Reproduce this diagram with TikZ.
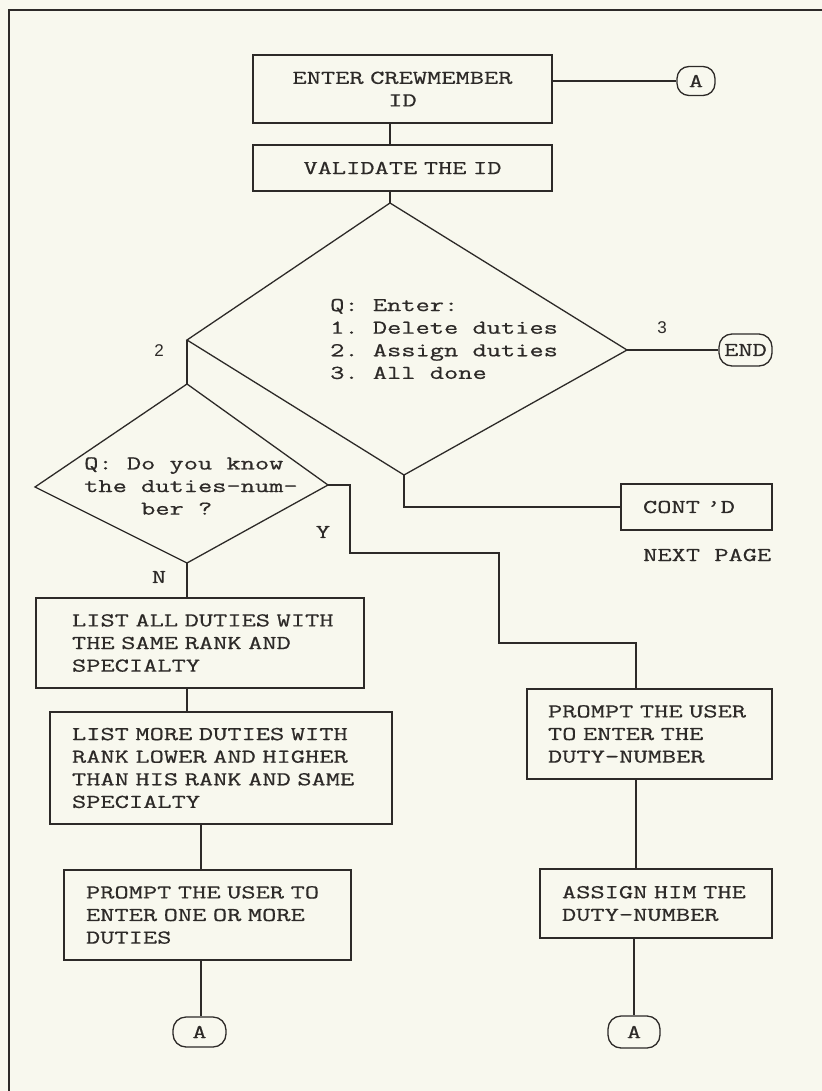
\documentclass[tikz,border=0pt]{standalone}
\usepackage{fontspec}
\setmainfont{Latin Modern Mono}[FakeStretch=1.41, FakeBold=0.6]
\newfontfamily\digitfont{Liberation Sans}
\definecolor{inkc}{RGB}{45,42,40}
\definecolor{paper}{RGB}{248,248,238}
\newcommand{\lineof}[1]{\mbox{#1}}
\newcommand{\monotext}{\fontsize{19.6pt}{22.6pt}\selectfont\frenchspacing\spaceskip=\fontcharwd\font`\A\relax}
\begin{document}
\begin{tikzpicture}[x=1pt,y=-1pt,
  every node/.style={font=\monotext, text=inkc},
  box/.style={draw=inkc, line width=1.3pt, rectangle, inner xsep=0pt, inner ysep=0pt, align=left},
  term/.style={draw=inkc, line width=1.3pt, rectangle, rounded corners=13pt, inner sep=0pt},
  lab/.style={inner sep=0pt},
  conn/.style={draw=inkc, line width=1.3pt},
  numlab/.style={inner sep=0pt, font={\digitfont\fontsize{17pt}{20pt}\selectfont}}]
\useasboundingbox (0,0) rectangle (821,1091);
\fill[paper] (-6,-6) rectangle (827,1097);
% page frame
\coordinate (fbl) at (9,1095);
\coordinate (ftl) at (9,10);
\coordinate (ftr) at (825,10);
\draw[conn] (fbl) -- (ftl) -- (ftr);

% top boxes
\node[box, align=center, minimum width=299pt, minimum height=68pt, text width=299pt] (enter) at (402.5,89) {ENTER CREWMEMBER\\ID};
\node[box, align=center, minimum width=299pt, minimum height=46pt, text width=299pt] (validate) at (402.5,168) {VALIDATE THE ID};
\node[term, minimum width=38pt, minimum height=29pt, rounded corners=12pt] (a1) at (696,81) {A};

% big decision
\coordinate (d1t) at (390,203);
\coordinate (d1l) at (187,340);
\coordinate (d1r) at (627,350);
\coordinate (d1b) at (404,475);
\draw[conn] (d1t) -- (d1r) -- (d1b) -- (d1l) -- cycle;
\node[lab, anchor=west, align=left] (q1) at (330,339) {Q: Enter:\\1. Delete duties\\2. Assign duties\\3. All done};
\node[numlab] (lab2) at (159,351) {2};
\node[numlab] (lab3) at (662,328) {3};
\node[term, minimum width=53pt, minimum height=32pt] (endn) at (745.5,350) {END};
\node[box, minimum width=151pt, minimum height=46pt, text width=107pt] (cont) at (696.5,507) {CONT 'D};
\node[lab, anchor=west] (next) at (643,555) {NEXT PAGE};

% small decision
\coordinate (d2t) at (187,384);
\coordinate (d2l) at (35,487);
\coordinate (d2r) at (328,485);
\coordinate (d2b) at (187,563);
\draw[conn] (d2t) -- (d2r) -- (d2b) -- (d2l) -- cycle;
\node[lab, anchor=west, align=left] (q2) at (84,486) {Q: Do you know\\the duties-num-\\\phantom{xxxx}ber ?};
\node[lab] (laby) at (323,532) {Y};
\node[lab] (labn) at (159,577) {N};

% left column
\node[box, minimum width=328pt, minimum height=90pt, text width=256pt] (l1) at (200,643) {\lineof{LIST ALL DUTIES WITH}\\\lineof{THE SAME RANK AND}\\SPECIALTY};
\node[box, minimum width=342pt, minimum height=112pt, text width=298pt] (l2) at (221,768) {\lineof{LIST MORE DUTIES WITH}\\\lineof{RANK LOWER AND HIGHER}\\\lineof{THAN HIS RANK AND SAME}\\SPECIALTY};
\node[box, minimum width=287pt, minimum height=90pt, text width=243pt] (p2) at (207.5,915) {\lineof{PROMPT THE USER TO}\\\lineof{ENTER ONE OR MORE}\\DUTIES};
\node[term, minimum width=53pt, minimum height=30pt] (a3) at (199.5,1032) {A};

% right column
\node[box, minimum width=245pt, minimum height=90pt, text width=203pt] (pr) at (649.5,734) {\lineof{PROMPT THE USER}\\\lineof{TO ENTER THE}\\\lineof{DUTY-NUMBER}};
\node[box, minimum width=232pt, minimum height=69pt, text width=188pt] (as) at (656,903.5) {\lineof{ASSIGN HIM THE}\\\lineof{DUTY-NUMBER}};
\node[term, minimum width=52pt, minimum height=32pt] (a4) at (634,1032) {A};

% helper x positions
\coordinate (cx1) at (390,0);
\coordinate (cx2) at (201,0);
\coordinate (cx3) at (636,0);
\coordinate (y1) at (350,553);
\coordinate (y2) at (499,643);

% connectors
\draw[conn] (a1.west -| enter.east) -- (a1.west);
\draw[conn] (enter.south -| cx1) -- (validate.north -| cx1);
\draw[conn] (validate.south -| cx1) -- (d1t);
\draw[conn] (d1r) -- (endn.west);
\draw[conn] (d1b) |- (cont.west);
\draw[conn] (d1l) -- (d2t);
\draw[conn] (d2r) -| (y1) -| (y2) -| (pr.north -| cx3);
\draw[conn] (d2b) -- (l1.north -| d2b);
\draw[conn] (l1.south -| d2b) -- (l2.north -| d2b);
\draw[conn] (l2.south -| cx2) -- (p2.north -| cx2);
\draw[conn] (p2.south -| cx2) -- (a3.north -| cx2);
\draw[conn] (pr.south -| cx3) -- (as.north -| cx3);
\draw[conn] (as.south -| a4) -- (a4.north);
\end{tikzpicture}
\end{document}
